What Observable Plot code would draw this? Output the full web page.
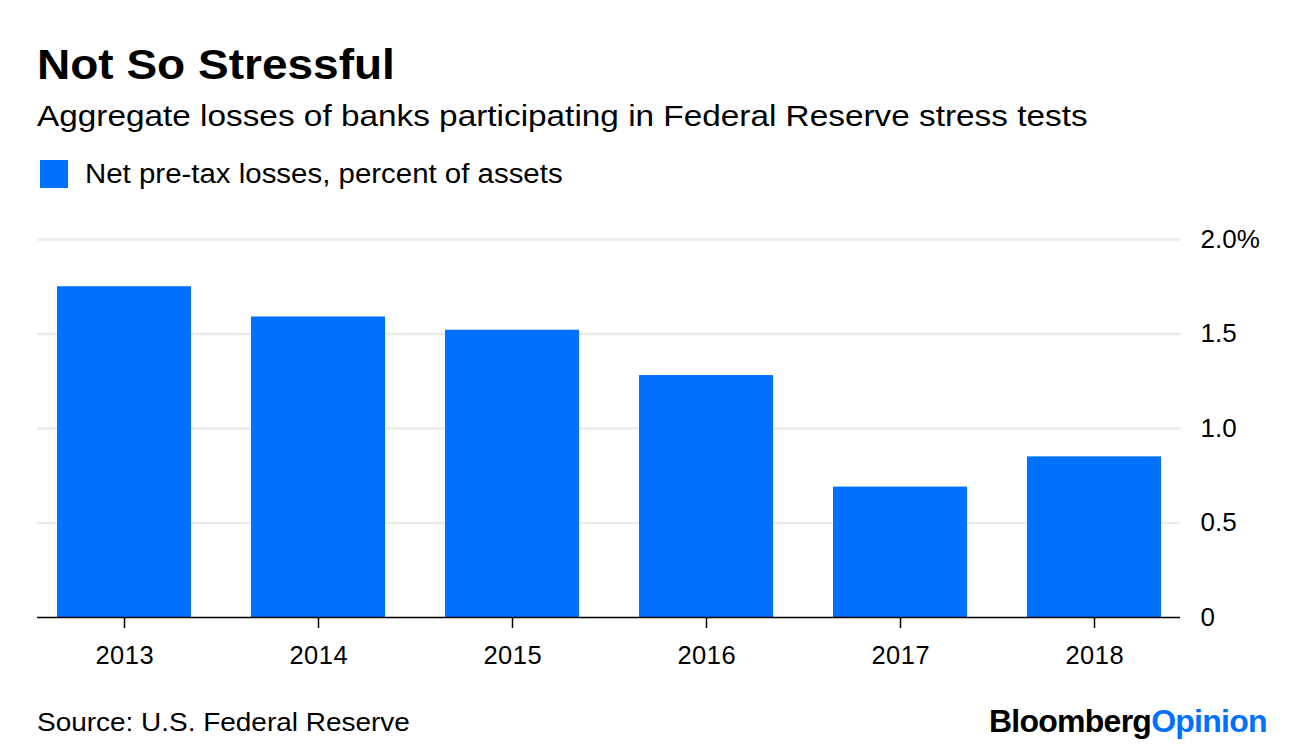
<!DOCTYPE html>
<html>
<head>
<meta charset="utf-8">
<script src="https://cdn.jsdelivr.net/npm/d3@7"></script>
<script src="https://cdn.jsdelivr.net/npm/@observablehq/plot@0.6"></script>
<style>
  html, body { margin: 0; padding: 0; background: #fff; }
  body { width: 1296px; height: 754px; position: relative; font-family: "Liberation Sans", Arial, sans-serif; color: #000; overflow: hidden; }
  .abs { position: absolute; white-space: nowrap; line-height: 1; transform-origin: 0 0; }
  #title { left: 37px; top: 43px; font-size: 43px; font-weight: bold; transform: scaleX(1.07); }
  #subtitle { left: 37px; top: 101px; font-size: 29.5px; transform: scaleX(1.13); }
  #swatch { left: 40px; top: 160px; width: 28px; height: 28px; background: #0070ff; }
  #legend { left: 85px; top: 161px; font-size: 27px; transform: scaleX(1.09); }
  #chart { left: 0; top: 210px; }
  #source { left: 37px; top: 708.5px; font-size: 26px; transform: scaleX(1.075); }
  #logo { left: 989px; top: 704.5px; font-size: 32px; font-weight: bold; letter-spacing: -0.75px; }
  #logo span { color: #0070ff; }
</style>
</head>
<body>
<div class="abs" id="title">Not So Stressful</div>
<div class="abs" id="subtitle">Aggregate losses of banks participating in Federal Reserve stress tests</div>
<div class="abs" id="swatch"></div>
<div class="abs" id="legend">Net pre-tax losses, percent of assets</div>
<div class="abs" id="chart"></div>
<div class="abs" id="source">Source: U.S. Federal Reserve</div>
<div class="abs" id="logo">Bloomberg<span>Opinion</span></div>
<script>
const years = ["2013", "2014", "2015", "2016", "2017", "2018"];
const losses = [1.75, 1.59, 1.52, 1.28, 0.69, 0.85];
const yTicks = [0, 0.5, 1.0, 1.5, 2.0];

const data = years.map((y, i) => ({year: y, value: losses[i]}));

const chart = Plot.plot({
  width: 1296,
  height: 480,
  marginLeft: 37,
  marginRight: 116,
  marginTop: 29,
  marginBottom: 73,
  style: {fontFamily: "'Liberation Sans', Arial, sans-serif", fontSize: "24px", color: "#000", background: "transparent"},
  x: {domain: years, paddingInner: 0.31, paddingOuter: 0.1, label: null},
  y: {domain: [0, 2.0], label: null},
  marks: [
    Plot.ruleY(yTicks.filter(d => d > 0), {stroke: "#ebebeb", strokeWidth: 2.5}),
    Plot.barY(data, {x: "year", y: "value", fill: "#0070ff"}),
    Plot.ruleY([0], {stroke: "#000", strokeWidth: 1.5}),
    Plot.axisX({tickSize: 11, tickPadding: 17, stroke: "#000", strokeWidth: 1.5, fontSize: 25.5, label: null}),
    Plot.axisY({anchor: "right", ticks: yTicks, tickSize: 0, tickPadding: 20, fontSize: 26, label: null,
      tickFormat: d => d === 0 ? "0" : (d === 2 ? "2.0%" : d.toFixed(1))})
  ]
});
d3.select(chart).selectAll("g[aria-label='x-axis tick label'] text")
  .attr("letter-spacing", "0.5px")
  .attr("dx", "0.25px");
document.getElementById("chart").appendChild(chart);
</script>
</body>
</html>
